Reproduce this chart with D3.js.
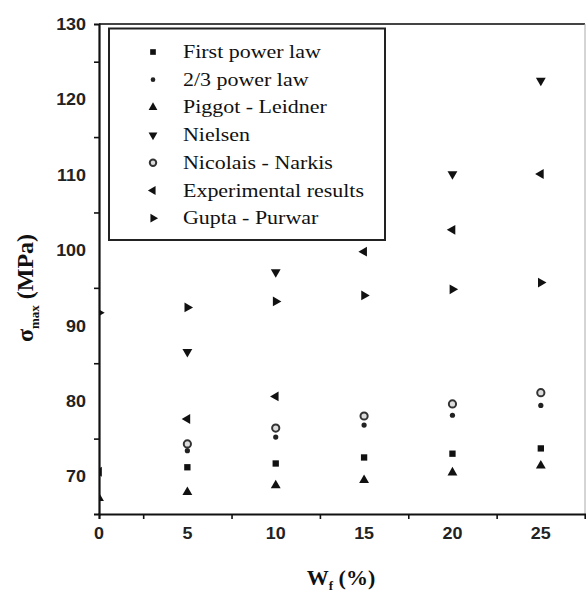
<!DOCTYPE html>
<html>
<head>
<meta charset="utf-8">
<script src="https://cdn.jsdelivr.net/npm/d3@7"></script>
<style>
  html, body { margin: 0; padding: 0; background: #fff; }
  svg { display: block; }
</style>
</head>
<body>
<svg id="chart" width="586" height="594"></svg>
<script>
// Fibre content W_f (%)
const wf = [0, 5, 10, 15, 20, 25];

// Maximum strength sigma_max (MPa) for each model / measurement (null = no point)
const firstPower   = [null, 71.2, 71.7, 72.5, 73.0, 73.7];
const twoThirds    = [null, 73.4, 75.2, 76.8, 78.1, 79.4];
const piggot       = [67.1, 67.9, 68.8, 69.5, 70.5, 71.4];
const nielsen      = [null, 86.5, 97.1, null, 110.1, 122.5];
const nicolais     = [null, 74.3, 76.4, 78.0, 79.6, 81.1];
const experimental = [70.6, 77.6, 80.6, 99.8, 102.7, 110.1];
const gupta        = [91.7, 92.4, 93.2, 94.0, 94.8, 95.7];

const seriesNames = ["First power law", "2/3 power law", "Piggot - Leidner", "Nielsen",
                     "Nicolais - Narkis", "Experimental results", "Gupta - Purwar"];
const seriesValues = [firstPower, twoThirds, piggot, nielsen, nicolais, experimental, gupta];
const seriesShapes = ["square", "dot", "up", "down", "ring", "left", "right"];

const xTickValues = [0, 5, 10, 15, 20, 25];
const xMinorTicks = [2.5, 7.5, 12.5, 17.5, 22.5];
const yTickValues = [70, 80, 90, 100, 110, 120, 130];
const yMinorTicks = [75, 85, 95, 105, 115, 125];

const svg = d3.select("#chart");
const plotL = 99, plotR = 585, plotT = 24, plotB = 514;

const x = d3.scaleLinear().domain([0, 27.5]).range([plotL, plotR]);
const y = d3.scaleLinear().domain([65, 130]).range([plotB, plotT]);

// clip marks to the plotting area
svg.append("defs").append("clipPath").attr("id", "plotClip")
  .append("rect").attr("x", plotL).attr("y", plotT).attr("width", plotR - plotL).attr("height", plotB - plotT);

function drawMarker(g, shape, scale) {
  const s = scale || 1;
  if (shape === "square") {
    g.append("path").attr("d", d3.symbol(d3.symbolSquare, 40 * s)()).attr("fill", "#111");
  } else if (shape === "dot") {
    g.append("circle").attr("r", 2.6 * Math.sqrt(s)).attr("fill", "#222");
  } else if (shape === "ring") {
    g.append("circle").attr("r", 3.6 * Math.sqrt(s)).attr("fill", "#ddd")
      .attr("stroke", "#333").attr("stroke-width", 2);
  } else {
    const rot = { up: 0, down: 180, left: -90, right: 90 }[shape];
    g.append("path").attr("d", d3.symbol(d3.symbolTriangle, 42 * s)())
      .attr("transform", `rotate(${rot})`).attr("fill", "#111");
  }
}

// data points
const marks = svg.append("g").attr("clip-path", "url(#plotClip)");
seriesValues.forEach((vals, i) => {
  vals.forEach((v, j) => {
    if (v == null) return;
    const g = marks.append("g").attr("transform", `translate(${x(wf[j])},${y(v)})`);
    drawMarker(g, seriesShapes[i]);
  });
});

// frame: top and right edges
svg.append("line").attr("x1", plotL).attr("x2", plotR).attr("y1", plotT).attr("y2", plotT)
  .attr("stroke", "#444").attr("stroke-width", 2);
svg.append("line").attr("x1", plotR).attr("x2", plotR).attr("y1", plotT).attr("y2", plotB)
  .attr("stroke", "#aaa").attr("stroke-width", 1);

// axes
const xAxis = svg.append("g").attr("transform", `translate(0,${plotB})`)
  .call(d3.axisBottom(x).tickValues(xMinorTicks).tickSize(5).tickFormat(""));
const yAxis = svg.append("g").attr("transform", `translate(${plotL},0)`)
  .call(d3.axisLeft(y).tickValues(yMinorTicks).tickSize(5).tickFormat(""));
[xAxis, yAxis].forEach(a => {
  a.select(".domain").attr("stroke", "#111").attr("stroke-width", 2.2);
  a.selectAll(".tick line").attr("stroke", "#111").attr("stroke-width", 1.6);
});

const tickFont = "'Liberation Sans', Arial, sans-serif";
svg.append("g").selectAll("text").data(xTickValues).join("text")
  .attr("transform", d => `translate(${x(d)},539) scale(1.12,1)`)
  .attr("text-anchor", "middle").attr("font-family", tickFont)
  .attr("font-weight", "bold").attr("font-size", 16).attr("fill", "#222")
  .text(d => d);
svg.append("g").selectAll("text").data(yTickValues).join("text")
  .attr("transform", d => `translate(86,${y(d) + 6}) scale(1.12,1)`)
  .attr("text-anchor", "end").attr("font-family", tickFont)
  .attr("font-weight", "bold").attr("font-size", 16).attr("fill", "#222")
  .text(d => d);

// axis titles
const titleFont = "'Liberation Serif', 'Times New Roman', serif";
const xt = svg.append("text").attr("transform", "translate(341,585)")
  .attr("text-anchor", "middle").attr("font-family", titleFont)
  .attr("font-weight", "bold").attr("font-size", 22).attr("fill", "#111");
xt.append("tspan").text("W");
xt.append("tspan").attr("font-size", 13).attr("dy", 5).text("f");
xt.append("tspan").attr("dy", -5).text(" (%)");

const yt = svg.append("text").attr("transform", "translate(33,288) rotate(-90)")
  .attr("text-anchor", "middle").attr("font-family", titleFont)
  .attr("font-weight", "bold").attr("font-size", 24).attr("fill", "#111");
yt.append("tspan").text("σ");
yt.append("tspan").attr("font-size", 13).attr("dy", 6).text("max");
yt.append("tspan").attr("dy", -6).text(" (MPa)");

// legend
const legend = svg.append("g");
legend.append("rect").attr("x", 109).attr("y", 28.5).attr("width", 276).attr("height", 211.5)
  .attr("fill", "#fff").attr("stroke", "#222").attr("stroke-width", 2);
seriesNames.forEach((name, i) => {
  const ry = 52 + i * 27.7;
  const g = legend.append("g").attr("transform", `translate(153,${ry})`);
  drawMarker(g, seriesShapes[i], 0.8);
  legend.append("text").attr("transform", `translate(183,${ry + 6}) scale(1.22,1)`)
    .attr("font-family", titleFont).attr("font-size", 18).attr("fill", "#111")
    .text(name);
});
</script>
</body>
</html>
